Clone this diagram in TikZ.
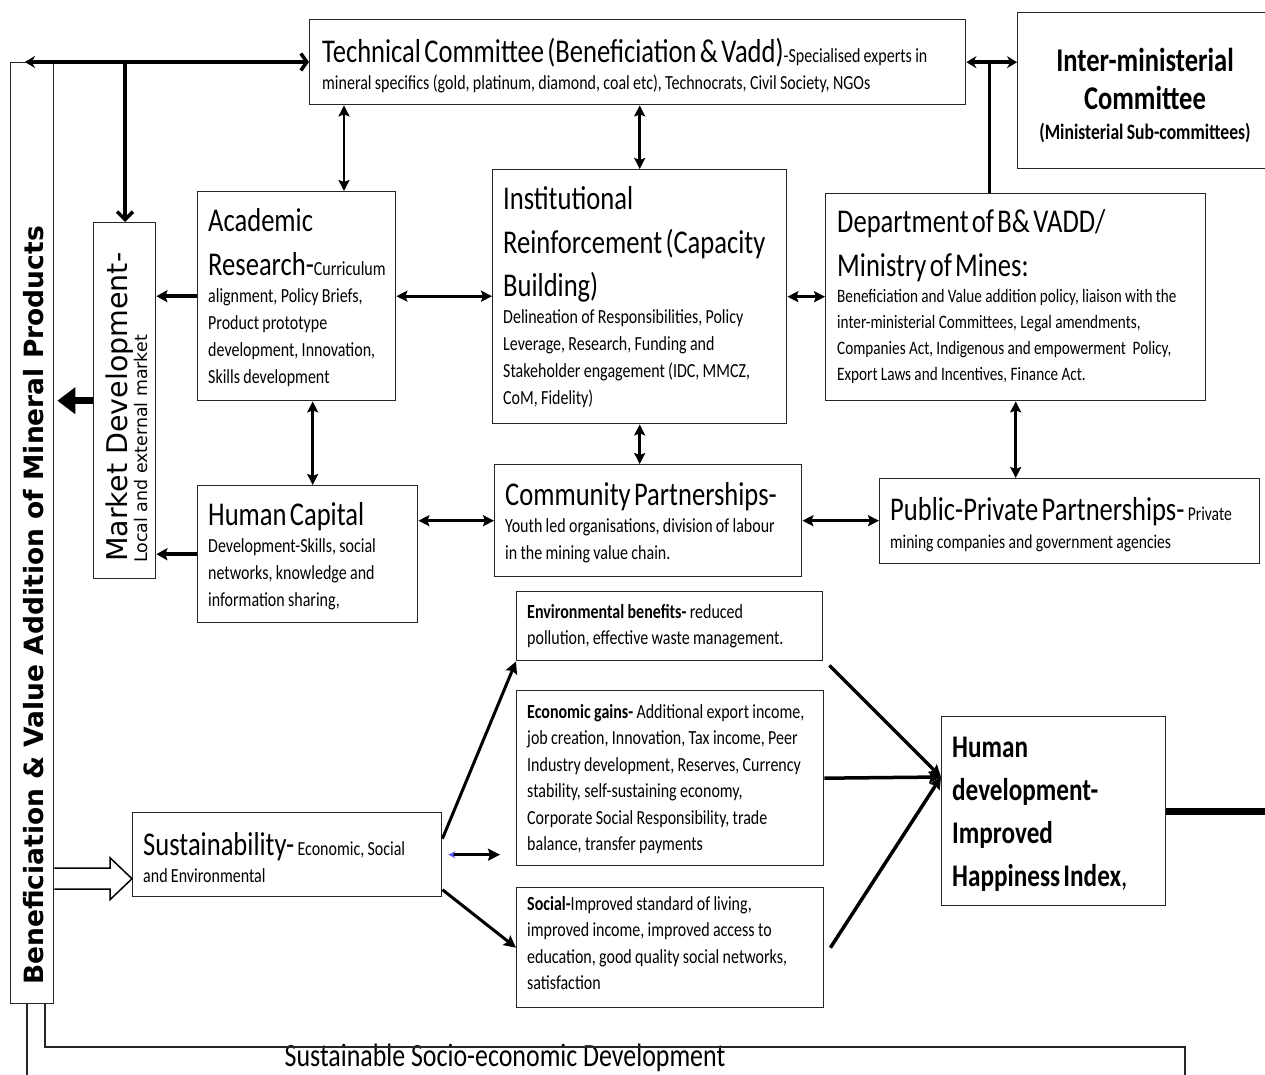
\documentclass[tikz,border=0pt]{standalone}
\usepackage{fontspec}
\setmainfont{Carlito}[FakeStretch=0.8]
\newfontfamily\dvs{DejaVu Sans}
\usetikzlibrary{arrows.meta,calc}
\newcommand{\fntL}{\fontsize{33.2}{43.5}\selectfont}
\newcommand{\fntS}{\fontsize{20}{27}\selectfont}
\newcommand{\fntD}{\fontsize{19}{26}\selectfont}
\newcommand{\fntP}{\fontsize{19.5}{28}\selectfont}
\newcommand{\fntE}{\fontsize{20}{26.5}\selectfont}
\newcommand{\fntH}{\fontsize{31.5}{43}\selectfont\bfseries}
\begin{document}
\begin{tikzpicture}[x=1pt,y=-1pt,
  box/.style={draw=black!85,line width=1.4pt,inner sep=0pt,anchor=north west},
  txt/.style={anchor=base west,inner sep=0pt,align=left},
  dbl/.style={line width=2.6pt,{Stealth[length=11pt,width=11pt,inset=2pt]}-{Stealth[length=11pt,width=11pt,inset=2pt]}},
  one/.style={line width=3pt,-{Stealth[length=12pt,width=12pt,inset=2pt]}},
  conv/.style={line width=3.5pt,-{Stealth[length=12pt,width=12pt,inset=2pt]}},
  thickln/.style={line width=3.5pt}]
\clip (0,0) rectangle (1265,1075);
\fill[white] (0,0) rectangle (1265,1075);

% boxes
\node[box,minimum width=656,minimum height=85] (tech) at (309,19) {};
\node[box,minimum width=270,minimum height=156] (inter) at (1017,12) {};
\node[box,minimum width=43,minimum height=941] (bar) at (10,62) {};
\node[box,minimum width=62,minimum height=356] (mkt) at (93,222) {};
\node[box,minimum width=198,minimum height=209] (acad) at (197,191) {};
\node[box,minimum width=294,minimum height=254] (inst) at (492,169) {};
\node[box,minimum width=380,minimum height=207] (dept) at (825,193) {};
\node[box,minimum width=220,minimum height=137] (hc) at (197,485) {};
\node[box,minimum width=307,minimum height=112] (comm) at (494,464) {};
\node[box,minimum width=380,minimum height=85] (ppp) at (879,478) {};
\node[box,minimum width=306,minimum height=69] (env) at (516,591) {};
\node[box,minimum width=307,minimum height=175] (eco) at (516,690) {};
\node[box,minimum width=307,minimum height=120] (soc) at (516,887) {};
\node[box,minimum width=224,minimum height=189] (hd) at (941,716) {};
\node[box,minimum width=309,minimum height=84] (sus) at (132,812) {};

% texts
\node[txt,text width=650] (techtxt) at (322,63) {{\fntL Technical Committee (Beneficiation \& Vadd)}{\fntS -Specialised experts in}\par
{\fntS mineral specifics (gold, platinum, diamond, coal etc), Technocrats, Civil Society, NGOs\par}};
\node[anchor=base,inner sep=0pt,align=center,text width=250] (intertxt) at (1145,72) {{\fontsize{33.2}{38}\selectfont\bfseries Inter-ministerial\par Committee\par}{\fontsize{22}{30}\selectfont\bfseries (Ministerial Sub-committees)\par}};
\node[txt,text width=200] (acadtxt) at (208,232) {{\fntL Academic\par}{\fntL Research-{\fntS Curriculum}\par}{\fntS alignment, Policy Briefs,\par Product prototype\par development, Innovation,\par Skills development\par}};
\node[txt,text width=290] (insttxt) at (503,210) {{\fntL Institutional\par Reinforcement (Capacity\par Building)\par}{\fntS Delineation of Responsibilities, Policy\par Leverage, Research, Funding and\par Stakeholder engagement (IDC, MMCZ,\par CoM, Fidelity)\par}};
\node[txt,text width=380] (depttxt) at (837,233) {{\fntL Department of B\& VADD/\par Ministry of Mines:\par}{\fntD Beneficiation and Value addition policy, liaison with the\par inter-ministerial Committees, Legal amendments,\par Companies Act, Indigenous and empowerment\ \ Policy,\par Export Laws and Incentives, Finance Act.\par}};
\node[txt,text width=220] (hctxt) at (208,525) {{\fntL Human Capital\par}{\fntS Development-Skills, social\par networks, knowledge and\par information sharing,\par}};
\node[txt,text width=300] (commtxt) at (505,505) {{\fntL Community Partnerships-\par}{\fntS Youth led organisations, division of labour\par in the mining value chain.\par}};
\node[txt,text width=380] (ppptxt) at (890,520) {{\fntL Public-Private Partnerships-}{\fntP\ Private\par}{\fntP mining companies and government agencies\par}};
\node[txt,text width=300] (envtxt) at (527,618) {{\fntE\textbf{Environmental benefits-} reduced\par pollution, effective waste management.\par}};
\node[txt,text width=300] (ecotxt) at (527,718) {{\fntE\textbf{Economic gains-} Additional export income,\par job creation, Innovation, Tax income, Peer\par Industry development, Reserves, Currency\par stability, self-sustaining economy,\par Corporate Social Responsibility, trade\par balance, transfer payments\par}};
\node[txt,text width=300] (soctxt) at (527,910) {{\fntE\textbf{Social-}Improved standard of living,\par improved income, improved access to\par education, good quality social networks,\par satisfaction\par}};
\node[txt,text width=220] (hdtxt) at (952,757) {{\fntH Human\par development-\par Improved\par Happiness Index{\mdseries ,}\par}};
\node[txt,text width=310] (sustxt) at (143,855) {{\fntL Sustainability-}{\fntS\ Economic, Social\par}{\fntS and Environmental\par}};
\node[rotate=90,anchor=base west,inner sep=0pt] (bartxt) at (43,985) {\dvs\bfseries\fontsize{26.5}{30}\selectfont Beneficiation \& Value Addition of Mineral Products};
\node[rotate=90,anchor=base west,inner sep=0pt] (mkttxt1) at (127,562) {\dvs\fontsize{28.5}{32}\selectfont Market Development-};
\node[rotate=90,anchor=base west,inner sep=0pt] (mkttxt2) at (147,563) {\dvs\fontsize{17.4}{20}\selectfont Local and external market};
\node[anchor=base,inner sep=0pt] (sdtxt) at (505,1066) {\fontsize{32.4}{36}\selectfont Sustainable Socio-economic Development};

% top connectors
\path (bar.north west) ++(15,0) coordinate (tl);
\draw[thickln,{Stealth[length=10pt,width=12pt]}-{Straight Barb[length=6pt,width=17pt]}] (tl) -- (tl -| tech.west);
\path (tl) ++(100,0) coordinate (tj2);
\draw[thickln,-{Straight Barb[length=8pt,width=16pt]}] (tj2) -- (tj2 |- mkt.north);
\draw[thickln,{Stealth[length=10pt,width=12pt]}-{Stealth[length=10pt,width=12pt]}] (tech.east) -- (tech.east -| inter.west);
\path (tech.east) ++(23,0) coordinate (tj);
\draw[thickln] (tj) -- (tj |- dept.north);

% double arrows
\path (acad.north west) ++(147,0) coordinate (a1);
\draw[dbl] (a1) -- (a1 |- tech.south);
\draw[dbl] (inst.north) -- (inst.north |- tech.south);
\draw[dbl] (acad.east) -- (acad.east -| inst.west);
\draw[dbl] (inst.east) -- (inst.east -| dept.west);
\path (hc.north) ++(5,0) coordinate (a2);
\draw[dbl] (a2) -- (a2 |- acad.south);
\draw[dbl] (inst.south) -- (inst.south |- comm.north);
\draw[dbl] (comm.west) -- (comm.west -| hc.east);
\draw[dbl] (comm.east) -- (comm.east -| ppp.west);
\draw[dbl] (dept.south) -- (dept.south |- ppp.north);

% market arrows
\draw[line width=4pt,-{Stealth[length=11pt,width=12pt,inset=2pt]}] (acad.west) -- (acad.west -| mkt.east);
\draw[line width=4pt,-{Stealth[length=11pt,width=12pt,inset=2pt]}] (hc.west) -- (hc.west -| mkt.east);
\draw[line width=7pt,-{Triangle[length=18pt,width=26pt]},shorten >=3pt] (mkt.west) -- (mkt.west -| bar.east);

% block arrow
\path (sus.west) ++(0,24) coordinate (bt);
\draw[line width=1.5pt,fill=white] ($(bt -| bar.east)+(0,-10.5)$) -- ($(bt)+(-22,-10.5)$) -- ($(bt)+(-22,-21)$) -- (bt) -- ($(bt)+(-22,21)$) -- ($(bt)+(-22,10.5)$) -- ($(bt -| bar.east)+(0,10.5)$);

% sustainability arrows
\path (sus.east) ++(0,-16) coordinate (s1);
\draw[one] (s1) -- (env.south west);
\draw[line width=3pt,shorten <=6pt,shorten >=16pt,{Stealth[length=7pt,width=7pt,color=blue!65]}-{Stealth[length=12pt,width=12pt,inset=2pt]}] (sus.east) -- (sus.east -| eco.west);
\path (sus.east) ++(0,35) coordinate (s3);
\draw[one] (s3) -- (soc.west);

% converging arrows
\path (hd.north west) ++(0,61) coordinate (hdin);
\path (env.south east) ++(6,4) coordinate (e1);
\draw[conv] (e1) -- (hdin);
\draw[conv] (eco.east) -- (hdin);
\path (soc.east) ++(6,0) coordinate (e3);
\draw[conv] (e3) -- (hdin);
\coordinate (rE) at (1270,0);
\draw[line width=7pt] (hd.east) -- (hd.east -| rE);

% bottom lines
\coordinate (bl1) at (27,1080);
\draw[line width=1.4pt,black!85] (bar.south -| bl1) -- (bl1);
\coordinate (bi) at (45,1047);
\coordinate (br) at (1185,1047);
\coordinate (brb) at (1185,1080);
\draw[line width=1.4pt,black!85] (bar.south -| bi) -- (bi) -- (br) -- (brb);
\end{tikzpicture}
\end{document}
